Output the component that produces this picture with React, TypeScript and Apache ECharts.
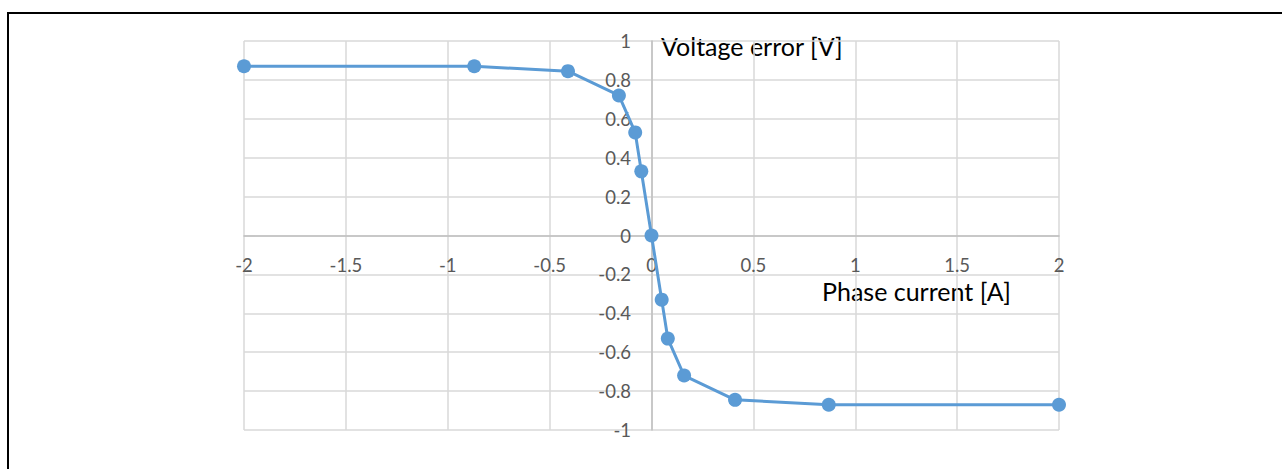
import React, { useEffect, useRef } from "react";
import * as echarts from "echarts";

const phaseCurrent = [-2, -0.87, -0.41, -0.16, -0.08, -0.05, 0, 0.05, 0.08, 0.16, 0.41, 0.87, 2];
const voltageError = [0.87, 0.87, 0.845, 0.72, 0.53, 0.33, 0, -0.33, -0.53, -0.72, -0.845, -0.87, -0.87];
const xTitle = "Phase current [A]";
const yTitle = "Voltage error [V]";

export default function App() {
  const ref = useRef<HTMLDivElement>(null);
  useEffect(() => {
    if (!ref.current) return;
    const chart = echarts.init(ref.current, undefined, { renderer: "svg" });
    const labelFont = "Lato, 'Open Sans', sans-serif";
    chart.setOption({
      animation: false,
      backgroundColor: "#ffffff",
      grid: { left: 244, top: 41, right: 223, bottom: 39, containLabel: false },
      xAxis: {
        type: "value",
        min: -2,
        max: 2,
        interval: 0.5,
        offset: -194.5,
        axisLine: { onZero: false, lineStyle: { color: "#bfbfbf", width: 1.5 } },
        axisTick: { show: false },
        axisLabel: {
          color: "#595959",
          fontSize: 18.5,
          lineHeight: 14,
          fontFamily: labelFont,
          margin: 22,
        },
        splitLine: { show: true, lineStyle: { color: "#d9d9d9", width: 1.5 } },
      },
      yAxis: {
        type: "value",
        min: -1,
        max: 1,
        interval: 0.2,
        offset: -408,
        axisLine: { onZero: false, lineStyle: { color: "#bfbfbf", width: 1.5 } },
        axisTick: { show: false },
        axisLabel: {
          color: "#595959",
          fontSize: 18.5,
          fontFamily: labelFont,
          margin: 21,
          formatter: (v: number) => String(Math.round(v * 10) / 10),
        },
        splitLine: { show: true, lineStyle: { color: "#d9d9d9", width: 1.5 } },
      },
      series: [
        {
          type: "line",
          data: phaseCurrent.map((x, i) => [x, voltageError[i]]),
          symbol: "circle",
          symbolSize: 14,
          itemStyle: { color: "#5b9bd5" },
          lineStyle: { color: "#5b9bd5", width: 3 },
        },
      ],
      graphic: [
        {
          type: "rect",
          shape: { x: 8, y: 13, width: 1400, height: 600 },
          style: { fill: "none", stroke: "#000", lineWidth: 2 },
          silent: true,
        },
        {
          type: "text",
          left: 661,
          top: 33,
          style: { text: yTitle, fill: "#000", fontSize: 25, lineHeight: 24, fontFamily: labelFont },
        },
        {
          type: "text",
          left: 822,
          top: 278.5,
          style: { text: xTitle, fill: "#000", fontSize: 25, lineHeight: 22, fontFamily: labelFont },
        },
      ],
    });
    return () => chart.dispose();
  }, []);
  return (
    <div
      ref={ref}
      style={{ position: "fixed", left: 0, top: 0, width: 1282, height: 469 }}
    />
  );
}
